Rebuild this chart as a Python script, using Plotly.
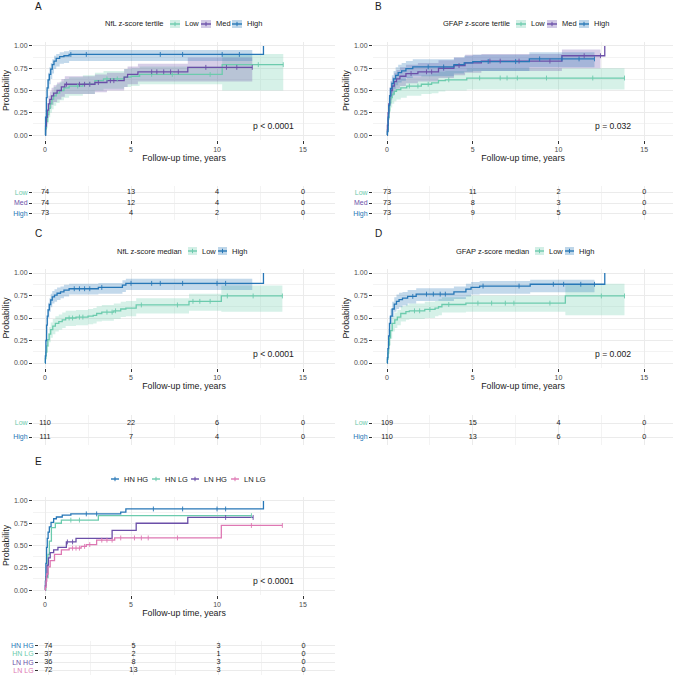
import plotly.graph_objects as go

FONT = "Liberation Sans, Arial, sans-serif"
W = H = 676

TEAL = "#6CCBAD"
PURPLE = "#6B4FA8"
BLUE = "#2777B7"
PINK = "#DE78B3"

RISK_TIMES = [0, 5, 10, 15]

# ---------------- Panel A: NfL tertile ----------------
A_LOW_T = [0, 0.03, 0.08, 0.15, 0.22, 0.3, 0.4, 0.5, 0.65, 0.85, 1.1, 1.4, 2.2, 2.9, 3.4, 4.6, 5.0, 5.5, 10.3]
A_LOW_P = [0, 0.07, 0.15, 0.23, 0.30, 0.35, 0.40, 0.44, 0.47, 0.50, 0.53, 0.55, 0.57, 0.61, 0.63, 0.65, 0.66, 0.68, 0.79]
A_LOW_LO = [0, 0.02, 0.08, 0.14, 0.20, 0.25, 0.29, 0.33, 0.36, 0.39, 0.42, 0.44, 0.46, 0.50, 0.52, 0.54, 0.55, 0.57, 0.50]
A_LOW_HI = [0, 0.12, 0.22, 0.31, 0.39, 0.44, 0.49, 0.54, 0.57, 0.60, 0.63, 0.65, 0.67, 0.70, 0.72, 0.74, 0.75, 0.77, 0.91]
A_LOW_CENS = [1.9, 2.6, 3.6, 4.2, 6.2, 7.4, 9.6, 12.4, 13.85]

A_MED_T = [0, 0.03, 0.08, 0.13, 0.2, 0.28, 0.38, 0.5, 0.7, 0.95, 1.15, 2.9, 3.6, 4.6, 4.8, 5.4, 8.3]
A_MED_P = [0, 0.10, 0.20, 0.28, 0.35, 0.40, 0.44, 0.47, 0.50, 0.54, 0.57, 0.59, 0.61, 0.65, 0.68, 0.71, 0.76]
A_MED_LO = [0, 0.04, 0.12, 0.19, 0.25, 0.30, 0.34, 0.37, 0.40, 0.43, 0.46, 0.48, 0.50, 0.54, 0.57, 0.60, 0.60]
A_MED_HI = [0, 0.16, 0.28, 0.36, 0.44, 0.49, 0.53, 0.56, 0.59, 0.63, 0.66, 0.68, 0.70, 0.74, 0.77, 0.80, 0.87]
A_MED_CENS = [1.25, 2.0, 2.3, 2.6, 3.1, 3.8, 4.0, 6.2, 6.5, 6.9, 7.3, 7.75, 9.35, 10.55, 11.15, 12.05]

A_HIGH_T = [0, 0.03, 0.08, 0.12, 0.18, 0.25, 0.33, 0.42, 0.52, 0.65, 0.85, 1.1, 1.4, 12.7]
A_HIGH_P = [0, 0.20, 0.42, 0.53, 0.62, 0.68, 0.74, 0.79, 0.83, 0.86, 0.88, 0.89, 0.905, 1.0]
A_HIGH_LO = [0, 0.12, 0.32, 0.42, 0.51, 0.57, 0.63, 0.69, 0.74, 0.77, 0.80, 0.81, 0.83]
A_HIGH_HI = [0, 0.28, 0.51, 0.62, 0.70, 0.76, 0.81, 0.85, 0.89, 0.91, 0.93, 0.94, 0.955]
A_HIGH_CENS = [1.5, 2.4, 6.7, 8.0, 10.3, 11.3]

A_RISK_LABELS = ["Low", "Med", "High"]
A_RISK = [[74, 13, 4, 0], [74, 12, 4, 0], [73, 4, 2, 0]]

# ---------------- Panel B: GFAP tertile ----------------
B_LOW_T = [0, 0.02, 0.06, 0.1, 0.15, 0.22, 0.3, 0.42, 0.55, 0.8, 1.15, 2.0, 2.6, 3.0, 3.4, 4.65]
B_LOW_P = [0, 0.06, 0.18, 0.28, 0.36, 0.42, 0.46, 0.49, 0.51, 0.53, 0.55, 0.57, 0.585, 0.61, 0.62, 0.64]
B_LOW_LO = [0, 0.01, 0.10, 0.18, 0.26, 0.31, 0.35, 0.38, 0.40, 0.42, 0.44, 0.46, 0.47, 0.49, 0.50, 0.51]
B_LOW_HI = [0, 0.11, 0.26, 0.37, 0.46, 0.52, 0.56, 0.59, 0.61, 0.63, 0.65, 0.67, 0.69, 0.71, 0.72, 0.75]
B_LOW_CENS = [1.3, 1.8, 2.4, 3.6, 5.4, 6.6, 7.0, 7.6, 9.3, 12.0, 13.85]

B_MED_T = [0, 0.02, 0.06, 0.1, 0.15, 0.22, 0.3, 0.42, 0.55, 0.75, 1.1, 1.8, 3.0, 3.9, 4.55, 5.5, 10.2, 12.7]
B_MED_P = [0, 0.11, 0.25, 0.35, 0.44, 0.50, 0.55, 0.60, 0.63, 0.66, 0.69, 0.71, 0.75, 0.78, 0.81, 0.83, 0.89, 1.0]
B_MED_LO = [0, 0.04, 0.16, 0.25, 0.33, 0.39, 0.44, 0.49, 0.52, 0.55, 0.58, 0.60, 0.64, 0.67, 0.70, 0.72, 0.75]
B_MED_HI = [0, 0.18, 0.34, 0.45, 0.54, 0.60, 0.65, 0.70, 0.73, 0.76, 0.79, 0.81, 0.84, 0.87, 0.90, 0.91, 0.96]
B_MED_CENS = [1.4, 2.3, 2.6, 3.3, 4.2, 6.0, 6.6, 7.7, 9.5, 11.5, 12.45]

B_HIGH_T = [0, 0.02, 0.06, 0.1, 0.15, 0.2, 0.28, 0.38, 0.5, 0.65, 0.85, 1.1, 1.5, 3.9, 4.5, 5.0, 8.3]
B_HIGH_P = [0, 0.04, 0.20, 0.33, 0.44, 0.52, 0.58, 0.63, 0.67, 0.70, 0.72, 0.745, 0.765, 0.79, 0.81, 0.825, 0.855]
B_HIGH_LO = [0, 0.0, 0.12, 0.23, 0.34, 0.41, 0.47, 0.52, 0.56, 0.59, 0.61, 0.64, 0.66, 0.69, 0.71, 0.72, 0.76]
B_HIGH_HI = [0, 0.09, 0.28, 0.42, 0.53, 0.61, 0.67, 0.72, 0.76, 0.79, 0.81, 0.83, 0.85, 0.87, 0.89, 0.90, 0.93]
B_HIGH_CENS = [2.4, 3.3, 5.9, 7.5, 8.9, 10.2, 11.2, 12.1]

B_RISK_LABELS = ["Low", "Med", "High"]
B_RISK = [[73, 11, 2, 0], [73, 8, 3, 0], [73, 9, 5, 0]]

# ---------------- Panel C: NfL median ----------------
C_LOW_T = [0, 0.02, 0.05, 0.1, 0.16, 0.24, 0.33, 0.45, 0.6, 0.8, 1.0, 1.2, 1.8, 2.5, 2.8, 3.0, 3.3, 4.0, 4.4, 4.7, 5.3, 8.37, 10.25]
C_LOW_P = [0, 0.05, 0.12, 0.19, 0.26, 0.32, 0.37, 0.41, 0.44, 0.46, 0.48, 0.50, 0.51, 0.52, 0.53, 0.55, 0.565, 0.58, 0.60, 0.61, 0.645, 0.685, 0.745]
C_LOW_LO = [0, 0.01, 0.06, 0.12, 0.18, 0.23, 0.28, 0.32, 0.35, 0.37, 0.39, 0.41, 0.42, 0.43, 0.44, 0.46, 0.47, 0.49, 0.51, 0.52, 0.55, 0.58, 0.57]
C_LOW_HI = [0, 0.09, 0.18, 0.26, 0.33, 0.40, 0.45, 0.49, 0.52, 0.54, 0.56, 0.58, 0.59, 0.60, 0.61, 0.63, 0.645, 0.66, 0.68, 0.69, 0.72, 0.77, 0.86]
C_LOW_CENS = [1.4, 1.6, 2.0, 2.2, 3.6, 3.9, 4.1, 5.6, 7.7, 8.6, 9.0, 9.6, 10.6, 12.1, 13.8]

C_HIGH_T = [0, 0.02, 0.05, 0.09, 0.13, 0.18, 0.25, 0.33, 0.42, 0.55, 0.7, 0.9, 1.1, 1.4, 3.1, 4.5, 4.7, 12.7]
C_HIGH_P = [0, 0.08, 0.25, 0.42, 0.52, 0.59, 0.65, 0.70, 0.735, 0.755, 0.775, 0.79, 0.81, 0.825, 0.84, 0.865, 0.885, 1.0]
C_HIGH_LO = [0, 0.03, 0.17, 0.33, 0.43, 0.50, 0.57, 0.62, 0.66, 0.68, 0.70, 0.72, 0.74, 0.76, 0.77, 0.79, 0.81]
C_HIGH_HI = [0, 0.13, 0.32, 0.50, 0.60, 0.67, 0.72, 0.77, 0.80, 0.82, 0.84, 0.85, 0.87, 0.88, 0.89, 0.92, 0.935]
C_HIGH_CENS = [1.7, 2.0, 2.3, 2.6, 3.3, 5.0, 6.2, 6.7, 8.0, 10.0, 10.5]

C_RISK_LABELS = ["Low", "High"]
C_RISK = [[110, 22, 6, 0], [111, 7, 4, 0]]

# ---------------- Panel D: GFAP median ----------------
D_LOW_T = [0, 0.02, 0.05, 0.09, 0.14, 0.2, 0.3, 0.45, 0.6, 0.8, 1.1, 1.3, 2.2, 2.8, 3.0, 3.2, 4.6, 10.4]
D_LOW_P = [0, 0.04, 0.11, 0.20, 0.28, 0.36, 0.44, 0.48, 0.51, 0.55, 0.57, 0.58, 0.595, 0.61, 0.625, 0.65, 0.665, 0.745]
D_LOW_LO = [0, 0.0, 0.05, 0.13, 0.20, 0.27, 0.35, 0.39, 0.42, 0.46, 0.48, 0.49, 0.50, 0.52, 0.53, 0.56, 0.57, 0.53]
D_LOW_HI = [0, 0.08, 0.17, 0.27, 0.36, 0.44, 0.52, 0.56, 0.59, 0.63, 0.65, 0.66, 0.68, 0.69, 0.71, 0.73, 0.75, 0.88]
D_LOW_CENS = [1.6, 1.9, 2.5, 3.6, 5.3, 6.1, 6.9, 7.4, 9.5, 12.5, 13.85]

D_HIGH_T = [0, 0.02, 0.05, 0.09, 0.14, 0.2, 0.3, 0.42, 0.55, 0.7, 0.9, 1.2, 1.7, 3.9, 4.6, 4.9, 5.4, 8.35, 12.7]
D_HIGH_P = [0, 0.06, 0.16, 0.30, 0.44, 0.52, 0.60, 0.655, 0.685, 0.705, 0.72, 0.74, 0.765, 0.79, 0.82, 0.84, 0.855, 0.875, 1.0]
D_HIGH_LO = [0, 0.02, 0.09, 0.21, 0.35, 0.43, 0.51, 0.57, 0.60, 0.62, 0.64, 0.66, 0.69, 0.71, 0.74, 0.76, 0.77, 0.785]
D_HIGH_HI = [0, 0.10, 0.23, 0.38, 0.52, 0.60, 0.68, 0.73, 0.76, 0.78, 0.79, 0.81, 0.83, 0.85, 0.88, 0.90, 0.91, 0.925]
D_HIGH_CENS = [1.5, 2.3, 2.7, 3.1, 3.4, 5.6, 7.7, 9.7, 10.3, 11.3, 12.1]

D_RISK_LABELS = ["Low", "High"]
D_RISK = [[109, 15, 4, 0], [110, 13, 6, 0]]

# ---------------- Panel E: combined groups ----------------
E_HNHG_T = [0, 0.02, 0.05, 0.09, 0.13, 0.18, 0.25, 0.35, 0.5, 0.66, 1.0, 1.5, 4.4, 4.7, 12.7]
E_HNHG_P = [0, 0.10, 0.30, 0.48, 0.58, 0.65, 0.71, 0.76, 0.80, 0.82, 0.84, 0.855, 0.875, 0.91, 1.0]
E_HNHG_CENS = [2.4, 3.0, 6.3, 8.0, 10.0, 10.5]

E_HNLG_T = [0, 0.05, 0.17, 0.25, 0.37, 0.6, 0.95, 3.1]
E_HNLG_P = [0, 0.14, 0.40, 0.55, 0.70, 0.75, 0.785, 0.835]
E_HNLG_CENS = [1.5, 2.0, 12.0]

E_LNHG_T = [0, 0.02, 0.06, 0.12, 0.2, 0.3, 0.5, 0.75, 1.24, 1.8, 3.9, 5.3, 8.3]
E_LNHG_P = [0, 0.05, 0.15, 0.28, 0.36, 0.42, 0.45, 0.48, 0.54, 0.58, 0.67, 0.75, 0.815]
E_LNHG_CENS = [1.3, 1.6, 10.5, 12.1]

E_LNLG_T = [0, 0.02, 0.06, 0.1, 0.18, 0.3, 0.55, 0.95, 1.4, 2.1, 2.4, 3.0, 4.05, 10.25]
E_LNLG_P = [0, 0.03, 0.10, 0.18, 0.26, 0.33, 0.40, 0.45, 0.47, 0.49, 0.51, 0.56, 0.585, 0.725]
E_LNLG_CENS = [1.6, 1.8, 2.0, 2.3, 2.6, 3.3, 3.6, 3.9, 4.4, 5.2, 5.6, 6.0, 7.7, 12.0, 13.8]

E_RISK_LABELS = ["HN HG", "HN LG", "LN HG", "LN LG"]
E_RISK = [[74, 5, 3, 0], [37, 2, 1, 0], [36, 8, 3, 0], [72, 13, 3, 0]]

P_VALUES = ["p < 0.0001", "p = 0.032", "p < 0.0001", "p = 0.002", "p < 0.0001"]
LEGEND_TITLES = ["NfL z-score tertile", "GFAP z-score tertile", "NfL z-score median", "GFAP z-score median", ""]


def rgba(hexc, a):
    h = hexc.lstrip('#')
    return "rgba(%d,%d,%d,%s)" % (int(h[0:2], 16), int(h[2:4], 16), int(h[4:6], 16), a)


def fx(p):
    return p / W


def fy(p):
    return 1 - p / H


def step_at(ts, ps, t):
    v = ps[0]
    for ti, pi in zip(ts, ps):
        if ti <= t:
            v = pi
    return v


def S(label, color, t, p, end, cens, lo=None, hi=None, band_end=None):
    return dict(label=label, color=color, t=t, p=p, end=end, cens=cens, lo=lo, hi=hi, band_end=band_end)


panels = [
    dict(letter="A", xpx=(33, 335), ypx=(41.5, 139.5), rx=(33, 335), ry=(186, 220), xr=(-0.70, 16.86),
         rxr=(-0.70, 16.86),
         strata=[S("Low", TEAL, A_LOW_T, A_LOW_P, 13.85, A_LOW_CENS, A_LOW_LO, A_LOW_HI, 13.85),
                 S("Med", PURPLE, A_MED_T, A_MED_P, 12.05, A_MED_CENS, A_MED_LO, A_MED_HI, 12.05),
                 S("High", BLUE, A_HIGH_T, A_HIGH_P, 12.7, A_HIGH_CENS, A_HIGH_LO, A_HIGH_HI, 12.05)],
         risk_labels=A_RISK_LABELS, risk=A_RISK, risk_colors=[TEAL, PURPLE, BLUE],
         leg_y=24, leg_keys=[170, 201, 232], key_w=10),
    dict(letter="B", xpx=(373, 673), ypx=(41.5, 139.5), rx=(373, 673), ry=(186, 220), xr=(-0.82, 16.68),
         rxr=(-0.82, 16.68),
         strata=[S("Low", TEAL, B_LOW_T, B_LOW_P, 13.85, B_LOW_CENS, B_LOW_LO, B_LOW_HI, 13.85),
                 S("Med", PURPLE, B_MED_T, B_MED_P, 12.7, B_MED_CENS, B_MED_LO, B_MED_HI, 12.45),
                 S("High", BLUE, B_HIGH_T, B_HIGH_P, 12.1, B_HIGH_CENS, B_HIGH_LO, B_HIGH_HI, 12.1)],
         risk_labels=B_RISK_LABELS, risk=B_RISK, risk_colors=[TEAL, PURPLE, BLUE],
         leg_y=24, leg_keys=[516, 547, 579], key_w=10),
    dict(letter="C", xpx=(33, 335), ypx=(268.5, 367.5), rx=(33, 335), ry=(414.6, 445.4), xr=(-0.70, 16.86),
         rxr=(-0.70, 16.86),
         strata=[S("Low", TEAL, C_LOW_T, C_LOW_P, 13.8, C_LOW_CENS, C_LOW_LO, C_LOW_HI, 13.8),
                 S("High", BLUE, C_HIGH_T, C_HIGH_P, 12.7, C_HIGH_CENS, C_HIGH_LO, C_HIGH_HI, 12.05)],
         risk_labels=C_RISK_LABELS, risk=C_RISK, risk_colors=[TEAL, BLUE],
         leg_y=251, leg_keys=[188, 218], key_w=9),
    dict(letter="D", xpx=(373, 673), ypx=(268.5, 367.5), rx=(373, 673), ry=(414.6, 445.4), xr=(-0.82, 16.68),
         rxr=(-0.82, 16.68),
         strata=[S("Low", TEAL, D_LOW_T, D_LOW_P, 13.85, D_LOW_CENS, D_LOW_LO, D_LOW_HI, 13.85),
                 S("High", BLUE, D_HIGH_T, D_HIGH_P, 12.7, D_HIGH_CENS, D_HIGH_LO, D_HIGH_HI, 12.1)],
         risk_labels=D_RISK_LABELS, risk=D_RISK, risk_colors=[TEAL, BLUE],
         leg_y=251, leg_keys=[535, 565], key_w=9),
    dict(letter="E", xpx=(33, 335), ypx=(496.5, 594.5), rx=(39, 335), ry=(641, 675), xr=(-0.70, 16.86),
         rxr=(-0.55, 16.85),
         strata=[S("HN HG", BLUE, E_HNHG_T, E_HNHG_P, 12.7, E_HNHG_CENS),
                 S("HN LG", TEAL, E_HNLG_T, E_HNLG_P, 12.0, E_HNLG_CENS),
                 S("LN HG", PURPLE, E_LNHG_T, E_LNHG_P, 12.1, E_LNHG_CENS),
                 S("LN LG", PINK, E_LNLG_T, E_LNLG_P, 13.8, E_LNLG_CENS)],
         risk_labels=E_RISK_LABELS, risk=E_RISK, risk_colors=[BLUE, TEAL, PURPLE, PINK],
         leg_y=479, leg_keys=[111, 152, 191, 231], key_w=8),
]

fig = go.Figure()
layout = dict(width=W, height=H, margin=dict(l=0, r=0, t=0, b=0), paper_bgcolor="white",
              plot_bgcolor="white", showlegend=False, font=dict(family=FONT, color="#1a1a1a"))
annotations = []
shapes = []

GRID = "#EBEBEB"
MINOR = "#F3F3F3"
TICKC = "#4D4D4D"

for pi, pn in enumerate(panels):
    mi = 2 * pi + 1
    ri = 2 * pi + 2
    ms = '' if mi == 1 else str(mi)
    rs = str(ri)

    layout['xaxis' + ms] = dict(
        domain=[fx(pn['xpx'][0]), fx(pn['xpx'][1])], range=list(pn['xr']), anchor='y' + ms,
        tickmode='linear', tick0=0, dtick=5, showgrid=True, gridcolor=GRID, gridwidth=0.8,
        minor=dict(dtick=2.5, tick0=0, showgrid=True, gridcolor=MINOR, gridwidth=0.6),
        zeroline=False, showline=False, ticks='outside', ticklen=3, tickcolor="#333333", tickwidth=0.8,
        tickfont=dict(size=7, color=TICKC), fixedrange=True,
        title=dict(text="Follow-up time, years", font=dict(size=8.8, color="#1a1a1a"), standoff=1))
    layout['yaxis' + ms] = dict(
        domain=[fy(pn['ypx'][1]), fy(pn['ypx'][0])], range=[-0.05, 1.05], anchor='x' + ms,
        tickmode='linear', tick0=0, dtick=0.25, tickformat='.2f', showgrid=True, gridcolor=GRID,
        gridwidth=0.8, minor=dict(dtick=0.125, tick0=0, showgrid=True, gridcolor=MINOR, gridwidth=0.6),
        zeroline=False, showline=False, ticks='outside', ticklen=3, tickcolor="#333333", tickwidth=0.8,
        tickfont=dict(size=7, color=TICKC), fixedrange=True,
        title=dict(text="Probability", font=dict(size=8.8, color="#1a1a1a"), standoff=2))

    n = len(pn['risk_labels'])
    layout['xaxis' + rs] = dict(
        domain=[fx(pn['rx'][0]), fx(pn['rx'][1])], range=list(pn['rxr']), anchor='y' + rs,
        tickmode='linear', tick0=0, dtick=5, showgrid=True, gridcolor=GRID, gridwidth=0.8,
        minor=dict(dtick=2.5, tick0=0, showgrid=True, gridcolor=MINOR, gridwidth=0.6),
        showticklabels=False, ticks='', zeroline=False, showline=False, fixedrange=True)
    layout['yaxis' + rs] = dict(
        domain=[fy(pn['ry'][1]), fy(pn['ry'][0])], range=[0.4, n + 0.6], anchor='x' + rs,
        tickmode='array', tickvals=[n - k for k in range(n)],
        ticktext=['<span style="color:%s">%s</span>' % (c, l)
                  for l, c in zip(pn['risk_labels'], pn['risk_colors'])],
        showgrid=True, gridcolor=GRID, gridwidth=0.8, zeroline=False, showline=False,
        ticks='outside', ticklen=3, tickcolor="#333333", tickwidth=0.8,
        tickfont=dict(size=7), fixedrange=True)

    xa, ya = 'x' + ms, 'y' + ms
    # bands
    for st in pn['strata']:
        if st['lo'] is None:
            continue
        m = len(st['lo'])
        bx = st['t'][:m] + [st['band_end']]
        blo = st['lo'] + [st['lo'][-1]]
        bhi = st['hi'] + [st['hi'][-1]]
        fig.add_trace(go.Scatter(x=bx, y=blo, xaxis=xa, yaxis=ya, mode='lines',
                                 line=dict(width=0, shape='hv', color=st['color']), hoverinfo='skip'))
        fig.add_trace(go.Scatter(x=bx, y=bhi, xaxis=xa, yaxis=ya, mode='lines', fill='tonexty',
                                 fillcolor=rgba(st['color'], 0.28),
                                 line=dict(width=0, shape='hv', color=st['color']), hoverinfo='skip'))
    # lines
    for st in pn['strata']:
        lx = list(st['t'])
        ly = list(st['p'])
        if st['end'] > lx[-1]:
            lx.append(st['end'])
            ly.append(ly[-1])
        fig.add_trace(go.Scatter(x=lx, y=ly, xaxis=xa, yaxis=ya, mode='lines',
                                 line=dict(width=1.3, shape='hv', color=st['color'])))
    # censor marks
    for st in pn['strata']:
        cy = [step_at(st['t'], st['p'], c) for c in st['cens']]
        fig.add_trace(go.Scatter(x=st['cens'], y=cy, xaxis=xa, yaxis=ya, mode='markers',
                                 marker=dict(symbol='line-ns', size=3.5,
                                             line=dict(width=0.9, color=st['color']))))
    # risk table numbers
    for k, row in enumerate(pn['risk']):
        fig.add_trace(go.Scatter(x=RISK_TIMES, y=[n - k] * len(RISK_TIMES), xaxis='x' + rs, yaxis='y' + rs,
                                 mode='text', text=[str(v) for v in row],
                                 textfont=dict(size=7.3, color="#1a1a1a", family=FONT),
                                 textposition='middle center'))

    # panel letter
    annotations.append(dict(text=pn['letter'], x=fx(pn['xpx'][0]), y=fy(pn['ypx'][0] - 35.5),
                            xref='paper', yref='paper', xanchor='left', yanchor='middle',
                            showarrow=False, font=dict(size=10, color="#1a1a1a")))
    # p-value
    annotations.append(dict(text=P_VALUES[pi], x=12.0, y=0.10, xref=xa, yref=ya, xanchor='left',
                            yanchor='middle', showarrow=False, font=dict(size=8.6, color="#1a1a1a")))

    # legend (drawn)
    ly_ = pn['leg_y']
    kw = pn['key_w']
    banded = pn['strata'][0]['lo'] is not None
    if LEGEND_TITLES[pi]:
        annotations.append(dict(text=LEGEND_TITLES[pi], x=fx(pn['leg_keys'][0] - 4), y=fy(ly_),
                                xref='paper', yref='paper', xanchor='right', yanchor='middle',
                                showarrow=False, font=dict(size=7.5, color="#1a1a1a")))
    for kx, st in zip(pn['leg_keys'], pn['strata']):
        if banded:
            shapes.append(dict(type='rect', xref='paper', yref='paper', x0=fx(kx), x1=fx(kx + kw),
                               y0=fy(ly_ + 4), y1=fy(ly_ - 4), fillcolor=rgba(st['color'], 0.3),
                               line=dict(width=0)))
        shapes.append(dict(type='line', xref='paper', yref='paper', x0=fx(kx), x1=fx(kx + kw),
                           y0=fy(ly_), y1=fy(ly_), line=dict(width=1.4, color=st['color'])))
        shapes.append(dict(type='line', xref='paper', yref='paper', x0=fx(kx + kw / 2), x1=fx(kx + kw / 2),
                           y0=fy(ly_ + 2.2), y1=fy(ly_ - 2.2), line=dict(width=1, color=st['color'])))
        annotations.append(dict(text=st['label'], x=fx(kx + kw + 3), y=fy(ly_), xref='paper', yref='paper',
                                xanchor='left', yanchor='middle', showarrow=False,
                                font=dict(size=7.5, color="#1a1a1a")))

layout['annotations'] = annotations
layout['shapes'] = shapes
fig.update_layout(**layout)
fig.update_traces(hoverinfo='skip')
fig.write_html("out.html")
